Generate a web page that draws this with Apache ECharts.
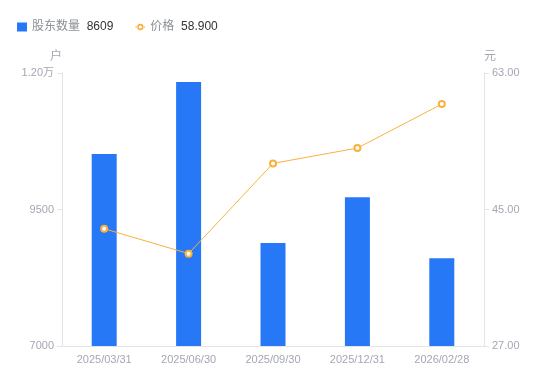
<!DOCTYPE html>
<html><head><meta charset="utf-8">
<script src="https://cdn.jsdelivr.net/npm/echarts@6/dist/echarts.min.js"></script>
<style>html,body{margin:0;padding:0;background:#fff}#c{width:550px;height:381px}</style>
</head><body><div id="c"></div>
<script>
const categories = ['2025/03/31','2025/06/30','2025/09/30','2025/12/31','2026/02/28'];
const holders = [10516, 11836, 8885, 9724, 8609];
const prices = [42.46, 39.18, 51.08, 53.1, 58.9];
const leftTicks = {min: 7000, max: 12000, interval: 2500};
const rightTicks = {min: 27, max: 63, interval: 18};
const latest = {'股东数量': '8609', '价格': '58.900'};

const chart = echarts.init(document.getElementById('c'));
const labelColor = '#a4a7b4';
const lineColor = '#e3e4e8';
const ringIcon = 'path://M0,4.4h2.2v1.2h-2.2z M7.8,4.4h2.2v1.2h-2.2z M5,1.8a3.2,3.2 0 1,0 0.001,0z M5,3.4a1.6,1.6 0 1,1 -0.001,0z';
chart.setOption({
  animation: false,
  textStyle: {fontFamily: '"Liberation Sans", "Noto Sans CJK SC", sans-serif'},
  legend: {
    left: 12, top: 16, itemWidth: 10, itemHeight: 9, itemGap: 22,
    formatter: function(n){ return '{n|' + n + '}  {v|' + latest[n] + '}'; },
    textStyle: {rich: {n: {color: '#8c8f99', fontSize: 12}, v: {color: '#333', fontSize: 12}}},
    data: [{name: '股东数量', icon: 'rect'},
           {name: '价格', icon: ringIcon, itemStyle: {color: '#f9b13c', borderWidth: 0}}]
  },
  grid: {left: 62, right: 66, top: 73, bottom: 35},
  xAxis: {
    type: 'category', data: categories,
    axisLine: {lineStyle: {color: lineColor}},
    axisTick: {show: false},
    axisLabel: {color: labelColor, fontSize: 11, margin: 8}
  },
  yAxis: [{
    type: 'value', name: '户', min: leftTicks.min, max: leftTicks.max, interval: leftTicks.interval,
    nameTextStyle: {color: labelColor, fontSize: 12, align: 'right'},
    nameGap: 10,
    axisLine: {show: true, lineStyle: {color: lineColor}},
    axisTick: {show: true, lineStyle: {color: lineColor}},
    splitLine: {show: false},
    axisLabel: {color: labelColor, fontSize: 11,
      formatter: function(v){ return v >= 10000 ? (v/10000).toFixed(2) + '万' : String(v); }}
  }, {
    type: 'value', name: '元', min: rightTicks.min, max: rightTicks.max, interval: rightTicks.interval,
    nameTextStyle: {color: labelColor, fontSize: 12, align: 'left'},
    nameGap: 10,
    axisLine: {show: true, lineStyle: {color: lineColor}},
    axisTick: {show: true, lineStyle: {color: lineColor}},
    splitLine: {show: false},
    axisLabel: {color: labelColor, fontSize: 11, formatter: function(v){ return v.toFixed(2); }}
  }],
  series: [{
    name: '股东数量', type: 'bar', data: holders, barWidth: 25, yAxisIndex: 0,
    itemStyle: {color: '#2678f6'}
  }, {
    name: '价格', type: 'line', data: prices, yAxisIndex: 1,
    symbol: 'emptyCircle', symbolSize: 6, showAllSymbol: true,
    lineStyle: {color: '#f9b13c', width: 1},
    itemStyle: {color: '#f9b13c', borderWidth: 2}
  }]
});
</script></body></html>
